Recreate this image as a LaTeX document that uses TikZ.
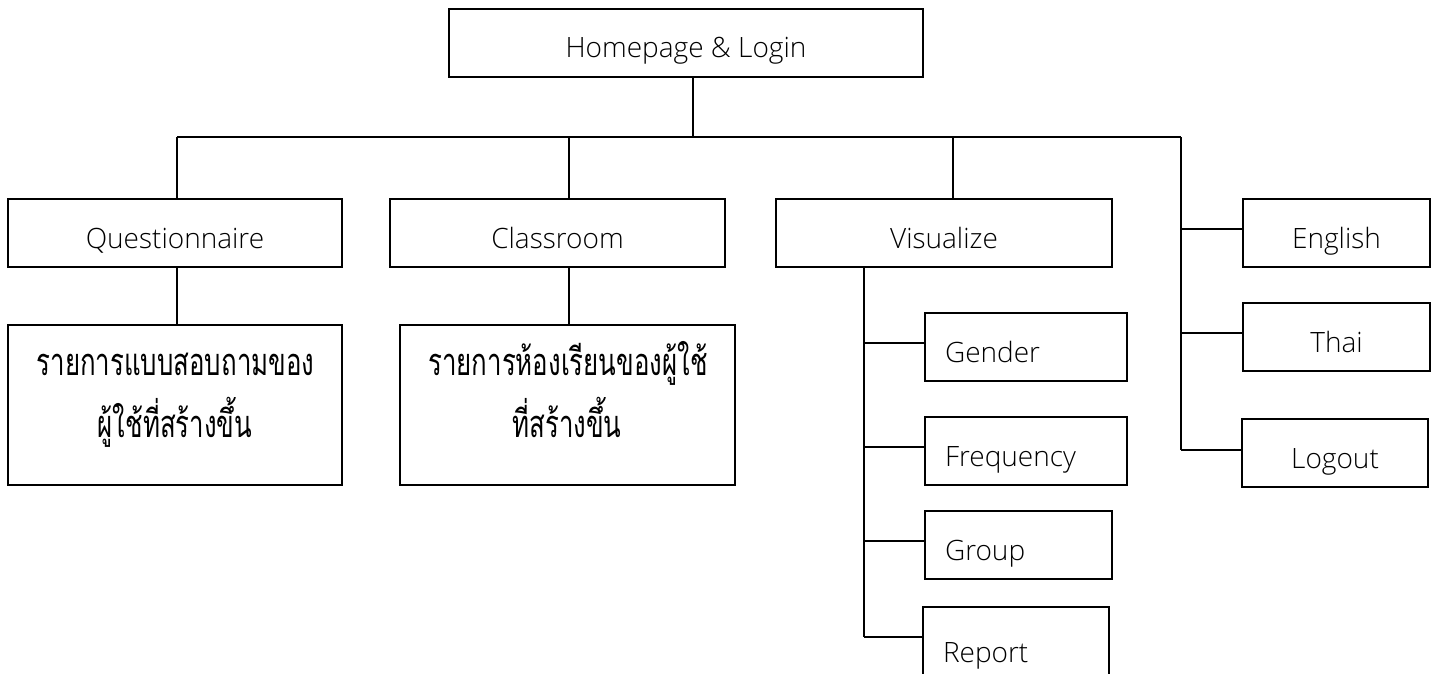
\documentclass[tikz,border=0pt]{standalone}
\usepackage{fontspec}
\setmainfont{Open Sans}[UprightFont=* Light]
\newfontfamily\thaifont[Script=Thai,FakeStretch=0.68]{Loma}
\begin{document}
\begin{tikzpicture}[x=1pt,y=-1pt,
  box/.style={draw, line width=1.8pt, inner sep=0pt, minimum height=68pt,
    font=\fontsize{28}{32}\selectfont, text height=30pt, text depth=0pt},
  lbox/.style={box, inner xsep=20pt, align=left},
  tbox/.style={draw, line width=1.8pt, inner sep=0pt, minimum height=160pt},
  thai/.style={inner sep=0pt, anchor=base, font=\thaifont\fontsize{38}{40}\selectfont},
  thick line/.style={line width=2.6pt},
  thin line/.style={line width=1.4pt}]
\clip (0,0) rectangle (1439,674);
% boxes
\node[box, minimum width=474pt] (home) at (686,43) {Homepage \& Login};
\node[box, minimum width=334pt] (quest) at (175,233) {Questionnaire};
\node[box, minimum width=335pt] (class) at (557.5,233) {Classroom};
\node[box, minimum width=336pt] (visu) at (944,233) {Visualize};
\node[box, minimum width=187pt] (eng) at (1336.5,233) {English};
\node[box, minimum width=187pt] (thai) at (1336.5,337) {Thai};
\node[box, minimum width=186pt] (logout) at (1335,453) {Logout};
\node[tbox, minimum width=334pt] (qlist) at (175,405) {};
\node[tbox, minimum width=335pt] (clist) at (567.5,405) {};
\node[thai] (qlistA) at (175.5,375) {รายการแบบสอบถามของ};
\node[thai] (qlistB) at (175,437) {ผู้ใช้ที่สร้างขึ้น};
\node[thai] (clistA) at (568,375) {รายการห้องเรียนของผู้ใช้};
\node[thai] (clistB) at (567,437) {ที่สร้างขึ้น};
\node[lbox, text width=162pt] (gender) at (1026,347) {Gender};
\node[lbox, text width=162pt] (freq) at (1026,451) {Frequency};
\node[lbox, text width=147pt] (group) at (1018.5,545) {Group};
\node[lbox, text width=146pt, minimum height=80pt] (report) at (1016,647) {Report};
% bus coordinates
\coordinate (busL) at (177,137);
\coordinate (busH) at (693,137);
\coordinate (busC) at (569,137);
\coordinate (busV) at (953,137);
\coordinate (busR) at (1181,137);
\coordinate (rEng) at (1181,229);
\coordinate (rThai) at (1181,333);
\coordinate (rLog) at (1181,450);
\coordinate (vTop) at (864,267);
\coordinate (vGen) at (864,343);
\coordinate (vFreq) at (864,447);
\coordinate (vGrp) at (864,541);
\coordinate (vRep) at (864,637);
% connectors
\draw[thick line] (home.south -| busH) -- (busH);
\draw[thick line] (busL) -- (busR);
\draw[thick line] (busL) -- (quest.north -| busL);
\draw[thick line] (busC) -- (class.north -| busC);
\draw[thick line] (busV) -- (visu.north -| busV);
\draw[thick line] (quest.south -| busL) -- (qlist.north -| busL);
\draw[thick line] (class.south -| busC) -- (clist.north -| busC);
\draw[thin line] (busR) -- (rLog);
\draw[thin line] (rEng) -- (rEng -| eng.west);
\draw[thin line] (rThai) -- (rThai -| thai.west);
\draw[thin line] (rLog) -- (rLog -| logout.west);
\draw[thin line] (vTop) -- (vRep);
\draw[thin line] (vGen) -- (vGen -| gender.west);
\draw[thin line] (vFreq) -- (vFreq -| freq.west);
\draw[thin line] (vGrp) -- (vGrp -| group.west);
\draw[thin line] (vRep) -- (vRep -| report.west);
\end{tikzpicture}
\end{document}
